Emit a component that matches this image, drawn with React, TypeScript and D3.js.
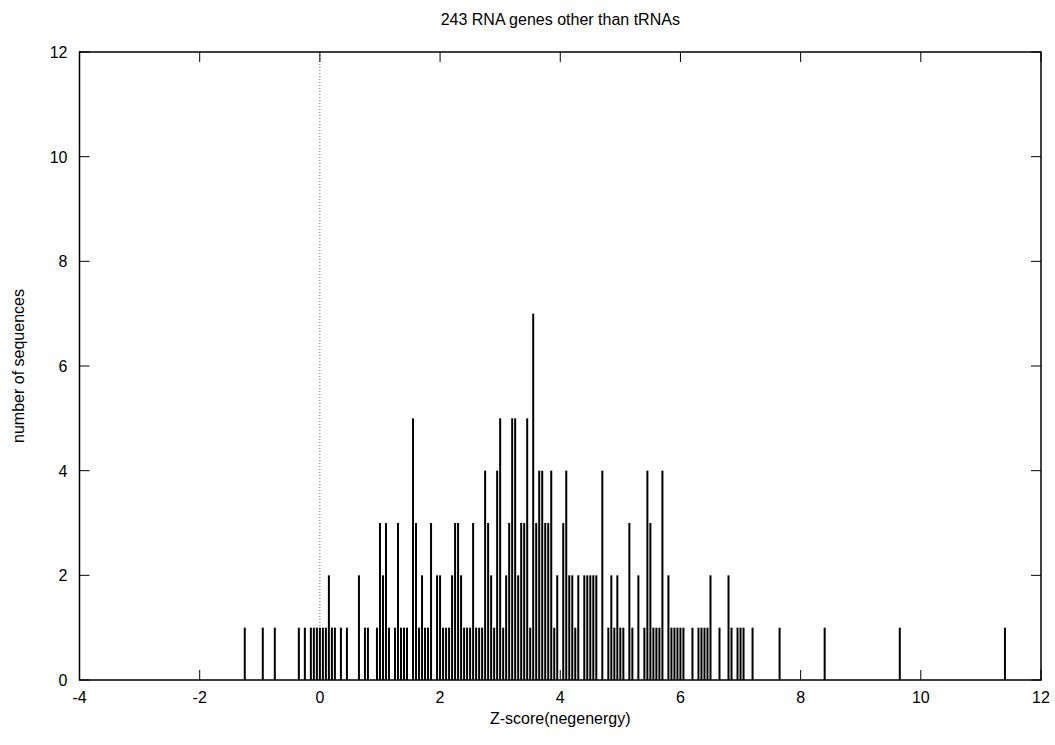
import React from "react";
import * as d3 from "d3";

// Histogram bins (Z-score, bin width 0.05) and counts
const binZ: number[] = [
  -1.25, -0.95, -0.75, -0.35, -0.25, -0.15, -0.1, -0.05, 0.0, 0.05, 0.1, 0.15, 0.2, 0.25, 0.35, 0.45,
  0.65, 0.75, 0.8, 0.95, 1.0, 1.05, 1.1, 1.15, 1.25, 1.3, 1.35, 1.4, 1.45, 1.55, 1.6, 1.65, 1.7, 1.75, 1.8, 1.85,
  1.95, 2.0, 2.05, 2.1, 2.15, 2.2, 2.25, 2.3, 2.35, 2.4, 2.45, 2.5, 2.55, 2.6, 2.65, 2.7, 2.75, 2.8, 2.85, 2.9, 2.95,
  3.0, 3.05, 3.1, 3.15, 3.2, 3.25, 3.3, 3.35, 3.4, 3.45, 3.5, 3.55, 3.6, 3.65, 3.7, 3.75, 3.8, 3.85, 3.9, 3.95,
  4.05, 4.1, 4.15, 4.2, 4.25, 4.3, 4.4, 4.45, 4.5, 4.55, 4.6, 4.7, 4.8, 4.85, 4.9, 4.95,
  5.0, 5.05, 5.15, 5.2, 5.3, 5.4, 5.45, 5.5, 5.55, 5.6, 5.65, 5.7, 5.8, 5.85, 5.9, 5.95, 6.0, 6.05,
  6.2, 6.3, 6.35, 6.4, 6.45, 6.5, 6.65, 6.8, 6.85, 6.95, 7.0, 7.05, 7.2, 7.65, 8.4, 9.65, 11.4,
];
const binCount: number[] = [
  1, 1, 1, 1, 1, 1, 1, 1, 1, 1, 1, 2, 1, 1, 1, 1,
  2, 1, 1, 1, 3, 2, 3, 1, 1, 3, 1, 1, 1, 5, 3, 1, 2, 1, 1, 3,
  2, 2, 1, 1, 1, 2, 3, 3, 2, 1, 1, 1, 3, 1, 1, 1, 4, 3, 2, 1, 4,
  5, 1, 2, 3, 5, 5, 2, 3, 3, 5, 1, 7, 3, 4, 4, 3, 3, 4, 1, 2,
  3, 4, 2, 2, 1, 2, 2, 2, 2, 2, 2, 4, 1, 2, 1, 2,
  1, 1, 3, 1, 2, 1, 4, 3, 1, 1, 1, 4, 2, 1, 1, 1, 1, 1,
  1, 1, 1, 1, 1, 2, 1, 2, 1, 1, 1, 1, 1, 1, 1, 1, 1,
];

const xTicks: number[] = [-4, -2, 0, 2, 4, 6, 8, 10, 12];
const yTicks: number[] = [0, 2, 4, 6, 8, 10, 12];

const titleText = "243 RNA genes other than tRNAs";
const xLabelText = "Z-score(negenergy)";
const yLabelText = "number of sequences";

export default function App() {
  const W = 1055, H = 745;
  const left = 79.5, right = 1041, top = 52, bottom = 680;
  const x = d3.scaleLinear().domain([-4, 12]).range([left, right]);
  const y = d3.scaleLinear().domain([0, 12]).range([bottom, top]);
  const font = "'Liberation Sans', Arial, Helvetica, sans-serif";
  const tickLen = 10;
  const data = binZ.map((z, i) => ({ z, c: binCount[i] }));

  return (
    <svg width={W} height={H} style={{ position: "absolute", left: 0, top: 0, background: "#fff" }}
      fontFamily={font}>
      <rect x={0} y={0} width={W} height={H} fill="#fff" />
      {/* zero line */}
      <line x1={x(0)} x2={x(0)} y1={y(12)} y2={y(0)} stroke="#666" strokeWidth={1}
        strokeDasharray="1,2" />
      {/* bars */}
      {data.map((d, i) => (
        <rect key={i} x={x(d.z) - 1} width={2} y={y(d.c)} height={y(0) - y(d.c)} fill="#000" />
      ))}
      {/* ticks */}
      {xTicks.map((t) => (
        <g key={"x" + t}>
          <line x1={x(t)} x2={x(t)} y1={bottom} y2={bottom - tickLen} stroke="#000" strokeWidth={1} />
          <line x1={x(t)} x2={x(t)} y1={top} y2={top + tickLen} stroke="#000" strokeWidth={1} />
          <text x={x(t)} y={bottom + 23} textAnchor="middle" fontSize={16} fill="#000">{t}</text>
        </g>
      ))}
      {yTicks.map((t) => (
        <g key={"y" + t}>
          <line x1={left} x2={left + tickLen} y1={y(t)} y2={y(t)} stroke="#000" strokeWidth={1} />
          <line x1={right} x2={right - tickLen} y1={y(t)} y2={y(t)} stroke="#000" strokeWidth={1} />
          <text x={left - 12} y={y(t) + 6} textAnchor="end" fontSize={16} fill="#000">{t}</text>
        </g>
      ))}
      {/* frame */}
      <rect x={left} y={top} width={right - left} height={bottom - top} fill="none" stroke="#000"
        strokeWidth={1.5} />
      <text x={(left + right) / 2} y={25} textAnchor="middle" fontSize={16} fill="#000">{titleText}</text>
      <text x={(left + right) / 2} y={724} textAnchor="middle" fontSize={16} fill="#000">{xLabelText}</text>
      <text transform={`translate(24, ${(top + bottom) / 2}) rotate(-90)`} textAnchor="middle"
        fontSize={16} fill="#000">{yLabelText}</text>
    </svg>
  );
}
